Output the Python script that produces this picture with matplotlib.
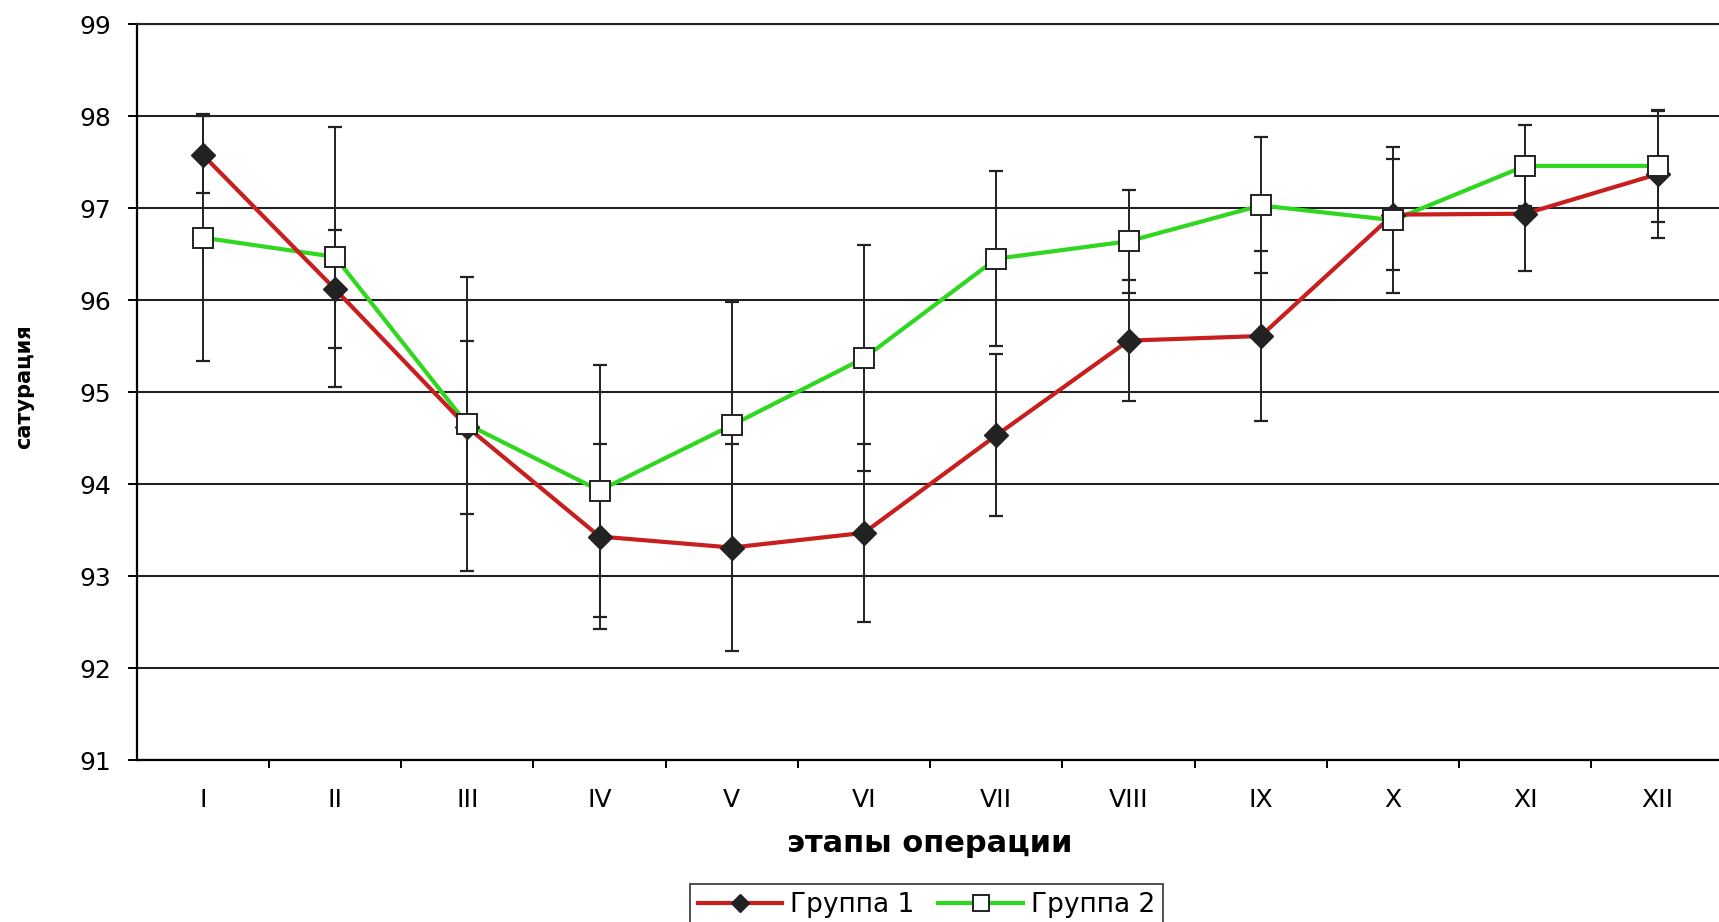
import numpy as np
import matplotlib
matplotlib.use('Agg')
import matplotlib.pyplot as plt
from matplotlib.lines import Line2D

plt.rcParams['font.family'] = ['DejaVu Sans']

stages = ['I', 'II', 'III', 'IV', 'V', 'VI', 'VII', 'VIII', 'IX', 'X', 'XI', 'XII']

# группа 1
g1 = [97.58, 96.12, 94.62, 93.43, 93.31, 93.47, 94.53, 95.56, 95.61, 96.93, 96.94, 97.37]
g1_err = [0.42, 0.64, 0.94, 1.01, 1.13, 0.97, 0.88, 0.66, 0.92, 0.60, 0.62, 0.69]
# группа 2
g2 = [96.68, 96.47, 94.65, 93.93, 94.64, 95.37, 96.45, 96.64, 97.03, 96.87, 97.46, 97.46]
g2_err = [1.34, 1.41, 1.60, 1.37, 1.34, 1.23, 0.95, 0.56, 0.74, 0.79, 0.44, 0.61]

red = '#c81e1e'
green = '#2fd81f'
dark = '#222222'

fig = plt.figure(figsize=(17.19, 9.22), dpi=100)
ax = fig.add_axes([0.0795, 0.1757, 0.9232, 0.798])

x = np.arange(len(stages)) + 0.5

# усы
ax.errorbar(x, g1, yerr=g1_err, fmt='none', ecolor=dark, elinewidth=1.4,
            capsize=4.8, capthick=1.6, zorder=2)
ax.errorbar(x, g2, yerr=g2_err, fmt='none', ecolor=dark, elinewidth=1.4,
            capsize=4.8, capthick=1.6, zorder=2)

ax.plot(x, g2, color=green, lw=3.0, zorder=3)
ax.plot(x, g1, color=red, lw=3.0, marker='D', ms=12, mfc=dark, mec=dark, zorder=4)
ax.plot(x, g2, ls='none', marker='s', ms=15, mfc='white', mec=dark, mew=1.4, zorder=5)

ax.set_xlim(0, 12)
ax.set_ylim(91, 99)
ax.set_yticks(range(91, 100))
ax.set_xticks(x)
ax.set_xticklabels(stages)
ax.set_xticks(np.arange(1, 13), minor=True)

ax.yaxis.grid(True, color=dark, lw=1.5)
ax.set_axisbelow(True)

ax.spines['right'].set_visible(False)
ax.spines['top'].set_color(dark)
ax.spines['top'].set_linewidth(1.5)
ax.spines['left'].set_linewidth(1.6)
ax.spines['bottom'].set_linewidth(1.6)

ax.tick_params(axis='y', direction='out', length=6.5, width=1.4, pad=12, labelsize=18)
ax.tick_params(axis='x', which='major', length=0, pad=20, labelsize=18)
ax.tick_params(axis='x', which='minor', direction='out', length=6, width=1.4)

ax.set_xlabel('этапы операции', fontsize=22, fontweight='bold')
ax.xaxis.set_label_coords(0.5, -0.113)
ax.xaxis.label.set_va('center')
ax.set_ylabel('сатурация', fontsize=15, fontweight='bold')
ax.yaxis.set_label_coords(-0.071, 0.508)
ax.yaxis.label.set_va('center')

handles = [
    Line2D([], [], color=red, lw=3.0, marker='D', ms=9, mfc=dark, mec=dark),
    Line2D([], [], color=green, lw=3.0, marker='s', ms=12, mfc='white', mec=dark, mew=1.4),
]
leg = fig.legend(handles, ['Группа 1', 'Группа 2'], ncol=2, loc='upper center',
                 bbox_to_anchor=(0.539, 0.0412), borderaxespad=0, fontsize=19,
                 frameon=True, fancybox=False, handlelength=3.2, handletextpad=0.3,
                 columnspacing=0.9, borderpad=0.3)
leg.get_frame().set_edgecolor(dark)
leg.get_frame().set_linewidth(1.4)

fig.savefig('out.png', dpi=100)
